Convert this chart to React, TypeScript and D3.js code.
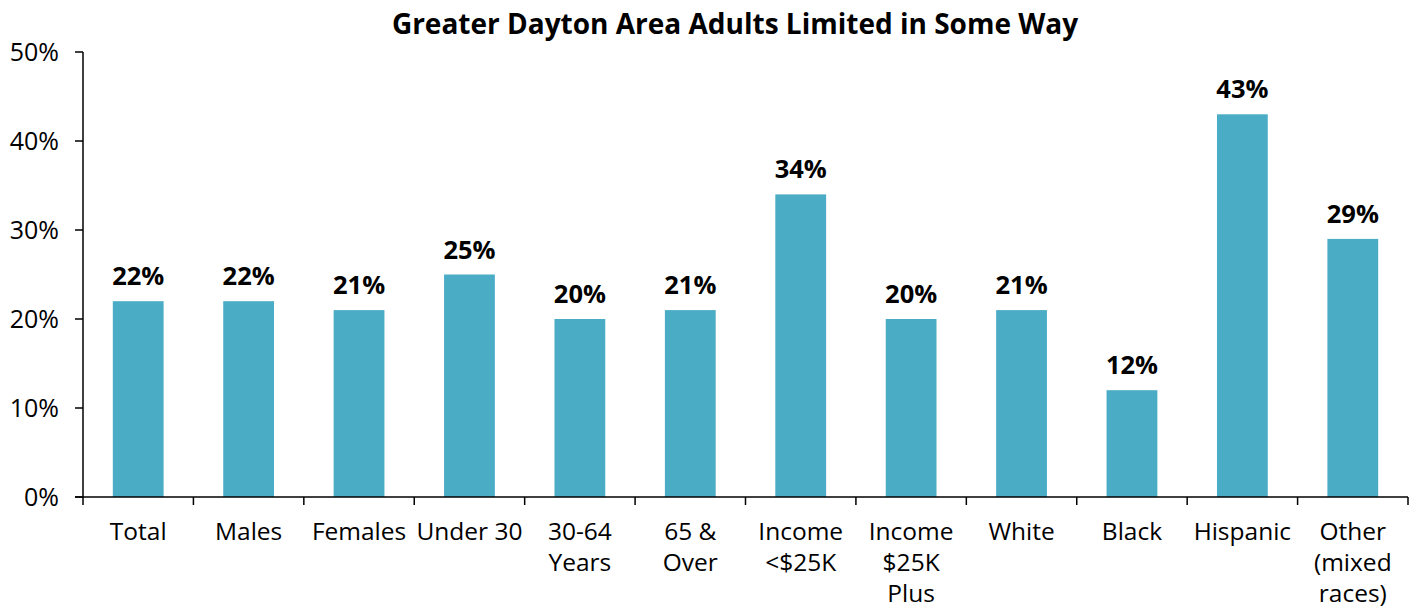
import React from "react";
import * as d3 from "d3";

const categories: string[][] = [
  ["Total"],
  ["Males"],
  ["Females"],
  ["Under 30"],
  ["30-64", "Years"],
  ["65 &", "Over"],
  ["Income", "<$25K"],
  ["Income", "$25K", "Plus"],
  ["White"],
  ["Black"],
  ["Hispanic"],
  ["Other", "(mixed", "races)"],
];
const values: number[] = [22, 22, 21, 25, 20, 21, 34, 20, 21, 12, 43, 29];
const yTicks: number[] = [0, 10, 20, 30, 40, 50];
const title = "Greater Dayton Area Adults Limited in Some Way";

const W = 1417;
const H = 609;
const left = 83;
const right = 1408;
const top = 52;
const bottom = 497;
const font = "'Open Sans', 'Noto Sans', sans-serif";
const barColor = "#4BACC6";

export default function App() {
  const ids = categories.map((_, i) => String(i));
  const x = d3.scaleBand<string>().domain(ids).range([left, right]).paddingInner(0.54).paddingOuter(0.27);
  const xStep = d3.scaleLinear().domain([0, categories.length]).range([left, right]);
  const y = d3.scaleLinear().domain([0, 50]).range([bottom, top]);

  return (
    <svg width={W} height={H} style={{ position: "absolute", left: 0, top: 0, background: "#fff" }}>
      <text x={735} y={34} textAnchor="middle" fontFamily={font} fontWeight="bold" fontSize={28} fill="#000">
        {title}
      </text>
      {values.map((v, i) => (
        <g key={i}>
          <rect x={x(ids[i])} y={y(v)} width={x.bandwidth()} height={bottom - y(v)} fill={barColor} />
          <text
            x={x(ids[i])! + x.bandwidth() / 2}
            y={y(v) - 16}
            textAnchor="middle"
            fontFamily={font}
            fontWeight="bold"
            fontSize={25.5}
            fill="#000"
          >
            {v}%
          </text>
        </g>
      ))}
      <line x1={left} x2={left} y1={top} y2={bottom} stroke="#000" strokeWidth={1.5} />
      {yTicks.map((t) => (
        <g key={t}>
          <line x1={left - 8} x2={left} y1={y(t)} y2={y(t)} stroke="#000" strokeWidth={1.5} />
          <text x={59} y={y(t) + 9} textAnchor="end" fontFamily={font} fontSize={25} fill="#000">
            {t}%
          </text>
        </g>
      ))}
      <line x1={left - 8} x2={right} y1={bottom} y2={bottom} stroke="#000" strokeWidth={1.5} />
      {d3.range(categories.length + 1).map((i) => (
        <line key={i} x1={xStep(i)} x2={xStep(i)} y1={bottom} y2={bottom + 8} stroke="#000" strokeWidth={1.5} />
      ))}
      {categories.map((lines, i) => (
        <text
          key={i}
          x={x(ids[i])! + x.bandwidth() / 2}
          textAnchor="middle"
          fontFamily={font}
          fontSize={24.5}
          fill="#000"
        >
          {lines.map((l, j) => (
            <tspan key={j} x={x(ids[i])! + x.bandwidth() / 2} y={540 + j * 31}>
              {l}
            </tspan>
          ))}
        </text>
      ))}
    </svg>
  );
}
